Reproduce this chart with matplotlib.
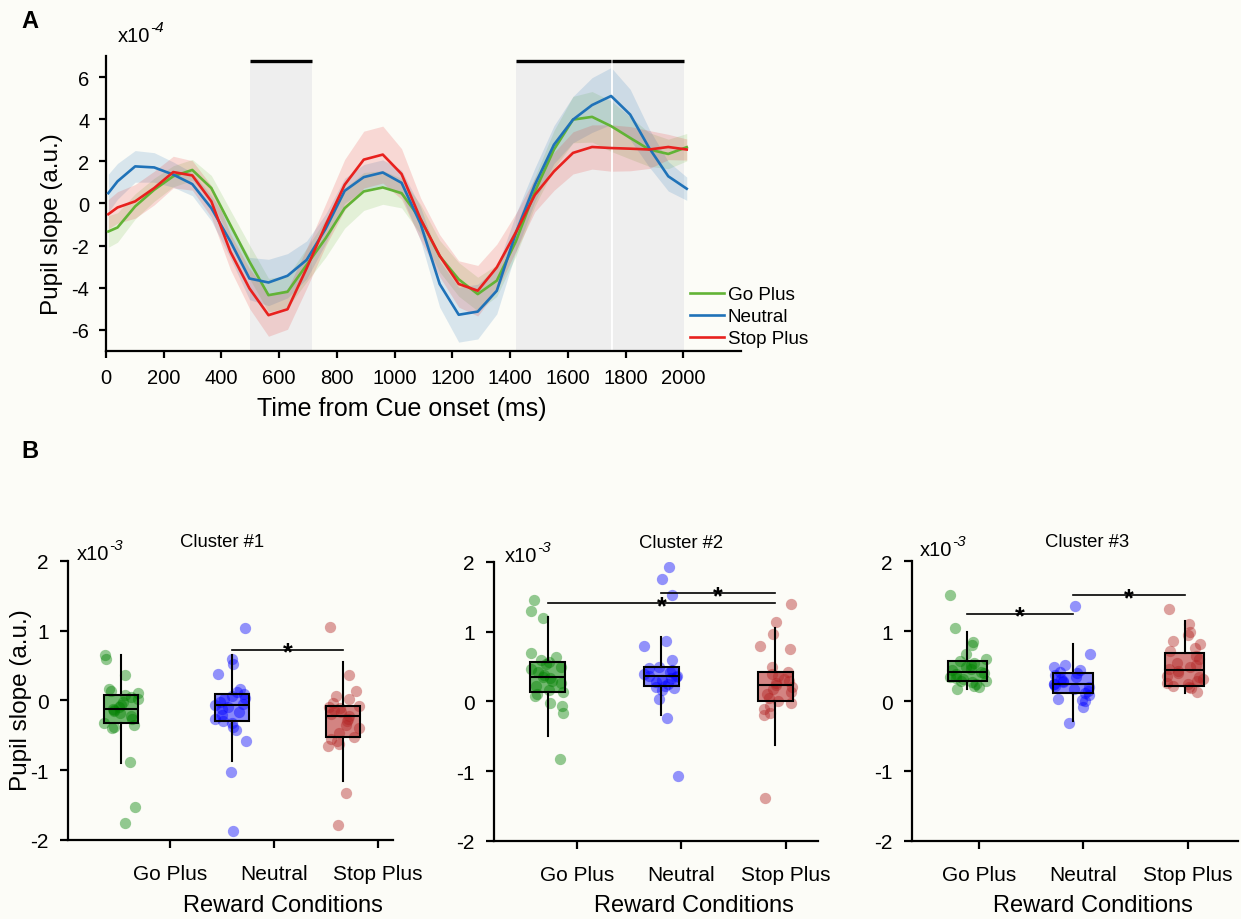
import matplotlib
matplotlib.use('Agg')
import matplotlib.pyplot as plt
import numpy as np

plt.rcParams['font.family'] = ['Liberation Sans', 'DejaVu Sans']
plt.rcParams['axes.unicode_minus'] = False

# ---- Panel A: pupil slope time course (x1e-4) ----
time_ms = [8, 40, 101, 167, 233, 299, 365, 431, 497, 563, 629, 695, 761, 827, 893, 959,
           1024, 1090, 1156, 1222, 1288, 1354, 1420, 1486, 1552, 1618, 1684, 1750, 1816,
           1882, 1948, 2012]
go_plus_mean = [-1.33, -1.14, -0.14, 0.65, 1.29, 1.59, 0.73, -1.02, -2.76, -4.35, -4.19, -2.92,
                -1.65, -0.22, 0.57, 0.76, 0.49, -0.75, -2.5, -3.6, -4.3, -3.66, -1.8, 0.57,
                2.56, 3.98, 4.11, 3.67, 3.11, 2.56, 2.35, 2.67]
neutral_mean = [0.49, 1.05, 1.76, 1.71, 1.37, 0.92, -0.22, -1.8, -3.56, -3.75, -3.43, -2.68,
                -1.2, 0.6, 1.25, 1.47, 0.98, -0.97, -3.82, -5.28, -5.13, -4.14, -1.4, 0.89,
                2.79, 3.98, 4.67, 5.1, 4.22, 2.63, 1.29, 0.70]
stop_plus_mean = [-0.51, -0.19, 0.10, 0.73, 1.49, 1.33, 0.10, -2.29, -4.03, -5.30, -5.02, -3.08,
                  -1.02, 0.89, 2.08, 2.32, 1.40, -0.74, -2.48, -3.82, -4.14, -3.03, -1.37, 0.41,
                  1.52, 2.40, 2.68, 2.63, 2.60, 2.56, 2.68, 2.56]
go_plus_sem = [0.75, 0.7, 0.6, 0.55, 0.5, 0.5, 0.6, 0.7, 0.8, 0.8, 0.75, 0.8, 0.9, 0.95, 0.9, 0.8,
               0.7, 0.7, 0.75, 0.8, 0.8, 0.75, 0.7, 0.7, 0.9, 1.1, 1.2, 1.2, 1.0, 0.8, 0.7, 0.65]
neutral_sem = [0.9, 0.85, 0.75, 0.7, 0.6, 0.55, 0.6, 0.8, 1.0, 1.1, 1.05, 0.9, 0.7, 0.6, 0.6, 0.6,
               0.6, 0.8, 1.1, 1.3, 1.3, 1.1, 0.9, 0.8, 0.9, 1.1, 1.3, 1.35, 1.2, 0.9, 0.7, 0.55]
stop_plus_sem = [0.7, 0.75, 0.8, 0.8, 0.75, 0.7, 0.75, 0.85, 0.95, 1.0, 0.95, 0.95, 1.0, 1.2, 1.35,
                 1.35, 1.2, 1.0, 1.0, 1.1, 1.2, 1.1, 0.9, 0.8, 0.9, 1.0, 1.05, 1.1, 1.05, 0.9, 0.6, 0.5]
sig_windows = [(500, 713), (1420, 1750), (1754, 2002)]
sig_bar_level = 6.75

# ---- Panel B: per-subject pupil slope per cluster (x1e-3) ----
conditions = ['Go Plus', 'Neutral', 'Stop Plus']
c1_go = [-1.76, -1.53, -0.88, -0.40, -0.38, -0.35, -0.32, -0.27, -0.22, -0.18, -0.15, -0.13, -0.12,
         -0.10, -0.06, -0.02, 0.02, 0.05, 0.08, 0.10, 0.13, 0.16, 0.36, 0.60, 0.65]
c1_neutral = [-1.87, -1.02, -0.58, -0.42, -0.38, -0.33, -0.30, -0.26, -0.21, -0.17, -0.12, -0.09,
              -0.07, -0.05, -0.02, 0.02, 0.04, 0.06, 0.09, 0.12, 0.16, 0.38, 0.52, 0.60, 1.04]
c1_stop = [-1.78, -1.32, -0.65, -0.62, -0.58, -0.55, -0.52, -0.46, -0.40, -0.35, -0.30, -0.26, -0.23,
           -0.20, -0.17, -0.14, -0.11, -0.10, -0.08, -0.03, 0.02, 0.06, 0.14, 0.37, 1.06]
c2_go = [-0.82, -0.17, -0.06, -0.02, 0.08, 0.11, 0.13, 0.17, 0.22, 0.26, 0.30, 0.33, 0.35, 0.38,
         0.42, 0.46, 0.50, 0.53, 0.56, 0.59, 0.64, 0.70, 1.19, 1.30, 1.46]
c2_neutral = [-1.07, -0.24, 0.03, 0.16, 0.19, 0.21, 0.22, 0.25, 0.28, 0.31, 0.33, 0.35, 0.36, 0.37,
              0.39, 0.42, 0.45, 0.48, 0.50, 0.59, 0.80, 0.87, 1.53, 1.75, 1.93]
c2_stop = [-1.38, -0.20, -0.16, -0.11, -0.06, -0.02, 0.00, 0.05, 0.10, 0.14, 0.18, 0.21, 0.23, 0.26,
           0.29, 0.32, 0.36, 0.40, 0.42, 0.50, 0.75, 0.79, 0.96, 1.14, 1.40]
c3_go = [0.17, 0.20, 0.22, 0.25, 0.27, 0.28, 0.29, 0.31, 0.33, 0.35, 0.38, 0.40, 0.42, 0.44, 0.46,
         0.48, 0.52, 0.55, 0.57, 0.60, 0.67, 0.80, 0.85, 1.05, 1.51]
c3_neutral = [-0.31, -0.09, 0.00, 0.02, 0.03, 0.08, 0.12, 0.14, 0.17, 0.20, 0.22, 0.24, 0.25, 0.27,
              0.29, 0.31, 0.34, 0.37, 0.40, 0.42, 0.45, 0.49, 0.51, 0.67, 1.36]
c3_stop = [0.13, 0.18, 0.20, 0.22, 0.24, 0.26, 0.28, 0.31, 0.34, 0.36, 0.40, 0.43, 0.46, 0.49, 0.52,
           0.55, 0.60, 0.64, 0.71, 0.76, 0.81, 0.86, 0.95, 0.99, 1.10, 1.31]

# box summaries as drawn: (q1, median, q3, lower whisker, upper whisker)
c1_box = [(-0.32, -0.12, 0.08, -0.90, 0.65), (-0.30, -0.07, 0.09, -0.87, 0.65),
          (-0.52, -0.23, -0.08, -1.16, 0.55)]
c2_box = [(0.13, 0.35, 0.56, -0.50, 1.21), (0.22, 0.36, 0.50, -0.19, 0.92),
          (0.00, 0.23, 0.42, -0.63, 1.05)]
c3_box = [(0.29, 0.42, 0.57, 0.17, 0.99), (0.12, 0.25, 0.40, -0.29, 0.81),
          (0.22, 0.45, 0.69, 0.12, 1.15)]

# significant pairs: (condition i, condition j, bar height)
c1_sig = [(1, 2, 0.73)]
c2_sig = [(0, 2, 1.41), (1, 2, 1.55)]
c3_sig = [(0, 1, 1.25), (1, 2, 1.51)]

# ---- Styling ----
bg = '#FCFCF7'
line_colors = ['#62B336', '#1F72B8', '#E8211E']
dot_colors = ['#008000', '#0000FF', '#B22222']


def unit_label(axis, x, y, expo):
    # "x10" followed by an italic superscript exponent
    base = axis.text(x, y, 'x10', transform=axis.transAxes, fontsize=14.5,
                     ha='left', va='baseline')
    axis.annotate(expo, xy=(1.0, 0.95), xycoords=base, fontsize=11, fontstyle='italic',
                  ha='left', va='center')


fig = plt.figure(figsize=(12.41, 9.2), dpi=100, facecolor=bg)

# ================= Panel A =================
ax = fig.add_axes([0.0854, 0.6174, 0.5117, 0.3207])
ax.set_facecolor('none')
ylo, yhi = -7, 7
for a, b in sig_windows:
    ax.fill_between([a, b], ylo, sig_bar_level, color='#EEEEEE', lw=0, zorder=0)
    ax.plot([a, b], [sig_bar_level, sig_bar_level], color='k', lw=2.4,
            solid_capstyle='butt', zorder=5)

t = np.array(time_ms)
series = [(go_plus_mean, go_plus_sem, 'Go Plus'),
          (neutral_mean, neutral_sem, 'Neutral'),
          (stop_plus_mean, stop_plus_sem, 'Stop Plus')]
for (m, s, lab), col in zip(series, line_colors):
    m = np.array(m); s = np.array(s)
    ax.fill_between(t, m - s, m + s, color=col, alpha=0.16, lw=0, zorder=1)
# white gap between adjacent windows
ax.plot([1752, 1752], [ylo, sig_bar_level - 0.1], color='white', lw=1.3, zorder=2)
handles = []
for (m, s, lab), col in zip(series, line_colors):
    h, = ax.plot(t, m, color=col, lw=1.9, label=lab, zorder=3)
    handles.append(h)

ax.set_xlim(0, 2200)
ax.set_ylim(ylo, yhi)
ax.set_xticks(np.arange(0, 2001, 200))
ax.set_yticks(np.arange(-6, 7, 2))
for sp in ['top', 'right']:
    ax.spines[sp].set_visible(False)
for sp in ['left', 'bottom']:
    ax.spines[sp].set_linewidth(1.6)
ax.tick_params(direction='out', length=5, width=1.6, labelsize=14.5, pad=7)
unit_label(ax, 0.019, 1.052, '-4')
fig.text(52 / 1241, 1 - 224 / 920, 'Pupil slope (a.u.)', rotation=90, fontsize=17.5,
         ha='center', va='center')
fig.text(402 / 1241, 1 - 409 / 920, 'Time from Cue onset (ms)', fontsize=18,
         ha='center', va='center')
ax.legend(handles=handles, loc='upper left', bbox_to_anchor=(690 / 1241, 1 - 287 / 920),
          bbox_transform=fig.transFigure, frameon=False, fontsize=13.6, borderpad=0,
          borderaxespad=0, handlelength=1.8, handletextpad=0.2, labelspacing=0.25)

fig.text(30 / 1241, 1 - 22 / 920, 'A', fontsize=17, fontweight='bold', ha='center', va='center')
fig.text(30 / 1241, 1 - 452 / 920, 'B', fontsize=17, fontweight='bold', ha='center', va='center')

# ================= Panel B =================
clusters = [
    dict(name='Cluster #1', data=[c1_go, c1_neutral, c1_stop], box=c1_box, sig=c1_sig,
         rect=[0.0548, 0.0859, 0.2619, 0.3033], xlim=(0.019, 3.144),
         pos=[0.529, 1.596, 2.663], width=0.327, title_x=0.474, unit_x=0.028, unit_y=1.007,
         xlab_x=282.5),
    dict(name='Cluster #2', data=[c2_go, c2_neutral, c2_stop], box=c2_box, sig=c2_sig,
         rect=[0.3981, 0.0848, 0.2611, 0.3033], xlim=(0.209, 3.31),
         pos=[0.721, 1.811, 2.898], width=0.335, title_x=0.577, unit_x=0.034, unit_y=1.005,
         xlab_x=694),
    dict(name='Cluster #3', data=[c3_go, c3_neutral, c3_stop], box=c3_box, sig=c3_sig,
         rect=[0.7349, 0.0848, 0.2627, 0.3043], xlim=(0.358, 3.483),
         pos=[0.888, 1.901, 2.972], width=0.379, title_x=0.537, unit_x=0.025, unit_y=1.021,
         xlab_x=1093),
]

rng = np.random.default_rng(7)
for ci, cl in enumerate(clusters):
    bx = fig.add_axes(cl['rect'])
    bx.set_facecolor('none')
    pos = cl['pos']
    w = cl['width']
    # jittered subjects
    for k, vals in enumerate(cl['data']):
        jit = rng.uniform(-0.5, 0.5, len(vals)) * w
        bx.scatter(pos[k] + jit, vals, s=66, color=dot_colors[k], alpha=0.42,
                   linewidths=0, zorder=1)
    stats = [dict(q1=q1, med=md, q3=q3, whislo=lo, whishi=hi, fliers=[])
             for (q1, md, q3, lo, hi) in cl['box']]
    bp = bx.bxp(stats, positions=pos, widths=w, patch_artist=True, showfliers=False,
                showcaps=False,
                boxprops=dict(edgecolor='k', linewidth=1.5),
                medianprops=dict(color='k', linewidth=1.5),
                whiskerprops=dict(color='k', linewidth=1.5))
    for patch, col, fa in zip(bp['boxes'], dot_colors, [0.55, 0.45, 0.55]):
        patch.set_facecolor(matplotlib.colors.to_rgba(col, fa))
        patch.set_zorder(2)
    for key in ['medians', 'whiskers']:
        for ln in bp[key]:
            ln.set_zorder(2.5)

    for i, j, yv in cl['sig']:
        bx.plot([pos[i], pos[j]], [yv, yv], color='k', lw=1.2, zorder=4)
        bx.annotate('*', xy=((pos[i] + pos[j]) / 2, yv), xytext=(0, -7),
                    textcoords='offset points', ha='center', va='baseline',
                    fontsize=18, fontweight='bold', zorder=5)

    bx.set_xlim(*cl['xlim'])
    bx.set_ylim(-2, 2)
    bx.set_yticks([-2, -1, 0, 1, 2])
    bx.set_xticks([1, 2, 3])
    bx.set_xticklabels(conditions)
    for sp in ['top', 'right']:
        bx.spines[sp].set_visible(False)
    for sp in ['left', 'bottom']:
        bx.spines[sp].set_linewidth(1.6)
    bx.tick_params(axis='x', direction='out', length=6, width=1.6, labelsize=15, pad=11)
    bx.tick_params(axis='y', direction='out', length=6, width=1.6, labelsize=15, pad=8)
    bx.text(cl['title_x'], 1.068, cl['name'], transform=bx.transAxes, fontsize=13.3,
            ha='center', va='center')
    unit_label(bx, cl['unit_x'], cl['unit_y'], '-3')
    fig.text(cl['xlab_x'] / 1241, 1 - 906 / 920, 'Reward Conditions', fontsize=17,
             ha='center', va='center')

fig.text(21 / 1241, 1 - 700 / 920, 'Pupil slope (a.u.)', rotation=90, fontsize=17.5,
         ha='center', va='center')

fig.savefig('out.png', dpi=100, facecolor=bg)
